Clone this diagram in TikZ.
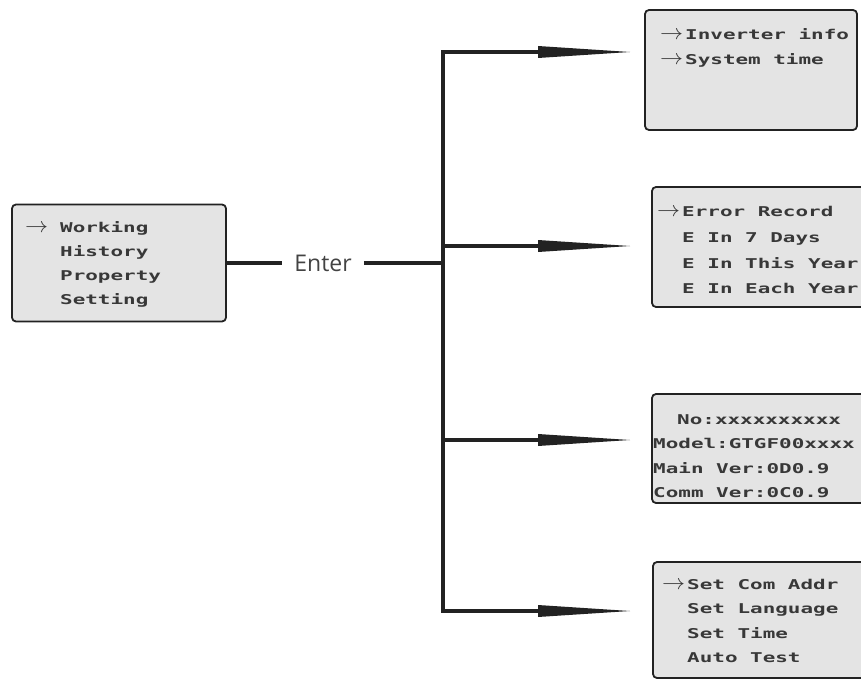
\documentclass[tikz,border=0pt]{standalone}
\usepackage{fontspec}
\usepackage{graphicx}
\newfontfamily\lcdfont[FakeStretch=1.55]{DejaVu Sans Mono}
\newfontfamily\labelfont{Open Sans}
\usetikzlibrary{arrows.meta}
\definecolor{screengray}{HTML}{E4E4E4}
\definecolor{inkgray}{HTML}{222222}
\tikzset{>={Triangle[length=92pt,width=12pt,line width=0pt]}}
\tikzset{
    screen/.style = {draw = inkgray, line width = 1.8pt, fill = screengray,
                     rounded corners = 4pt, inner sep = 0pt},
    lcd/.style    = {anchor = west, inner sep = 0pt, text height = 9pt, text depth = 0pt,
                     font = \lcdfont\bfseries\fontsize{13.5}{14}\selectfont, text = inkgray!90},
    bus/.style    = {draw = inkgray, line width = 4.6pt},
}
% selection arrow hanging left of a menu line
\newcommand{\sel}[1][2pt]{\llap{\scalebox{1.6}[1.5]{$\rightarrow$}\hspace{#1}}}

\begin{document}
\begin{tikzpicture}[x = 1pt, y = -1pt, line join = miter]
    \useasboundingbox (0,0) rectangle (861,679);

    % screens
    \node[screen, minimum width = 214pt, minimum height = 117pt] (menu) at (119,263) {};
    \node[screen, minimum width = 212pt, minimum height = 120pt] (info) at (751,70) {};
    \node[screen, minimum width = 220pt, minimum height = 120pt] (record) at (762,247) {};
    \node[screen, minimum width = 220pt, minimum height = 109pt] (property) at (762,448.5) {};
    \node[screen, minimum width = 220pt, minimum height = 116pt] (setting) at (763,620) {};

    % screen texts
    \foreach \t [count = \i from 0] in {{\sel[12pt]Working}, History, Property, Setting}
        \node[lcd] (menu-\i) at (60, 228+24*\i) {\t};
    \foreach \t [count = \i from 0] in {{\sel Inverter info}, {\sel System time}}
        \node[lcd] (info-\i) at (685, 35+25*\i) {\t};
    \foreach \t [count = \i from 0] in {{\sel Error Record}, E In 7 Days, E In This Year, E In Each Year}
        \node[lcd] (record-\i) at (682, 212+25.8*\i) {\t};
    \node[lcd] (property-0) at (677,420) {No:xxxxxxxxxx};
    \foreach \t [count = \i from 1] in {Model:GTGF00xxxx, Main Ver:0D0.9, Comm Ver:0C0.9}
        \node[lcd] (property-\i) at (653, 420+24.4*\i) {\t};
    \foreach \t [count = \i from 0] in {{\sel Set Com Addr}, Set Language, Set Time, Auto Test}
        \node[lcd] (setting-\i) at (687, 585+24.4*\i) {\t};

    % enter key and branches
    \node[font = \labelfont\fontsize{23}{23}\selectfont, text = inkgray!85, inner sep = 12pt] (enter) at (323,263) {Enter};
    \coordinate (j0) at (443,263);
    \coordinate (j1) at (443,52);
    \coordinate (j2) at (443,246);
    \coordinate (j3) at (443,440);
    \coordinate (j4) at (443,611);
    \coordinate (t1) at (630,52);
    \coordinate (t2) at (630,246);
    \coordinate (t3) at (630,440);
    \coordinate (t4) at (630,611);

    \draw[bus] (menu.east) -- (enter.west);
    \draw[bus] (enter.east) -- (j0);
    \draw[bus, <->] (t1) -- (j1) -- (j4) -- (t4);
    \draw[bus, ->] (j2) -- (t2);
    \draw[bus, ->] (j3) -- (t3);

\end{tikzpicture}
\end{document}
